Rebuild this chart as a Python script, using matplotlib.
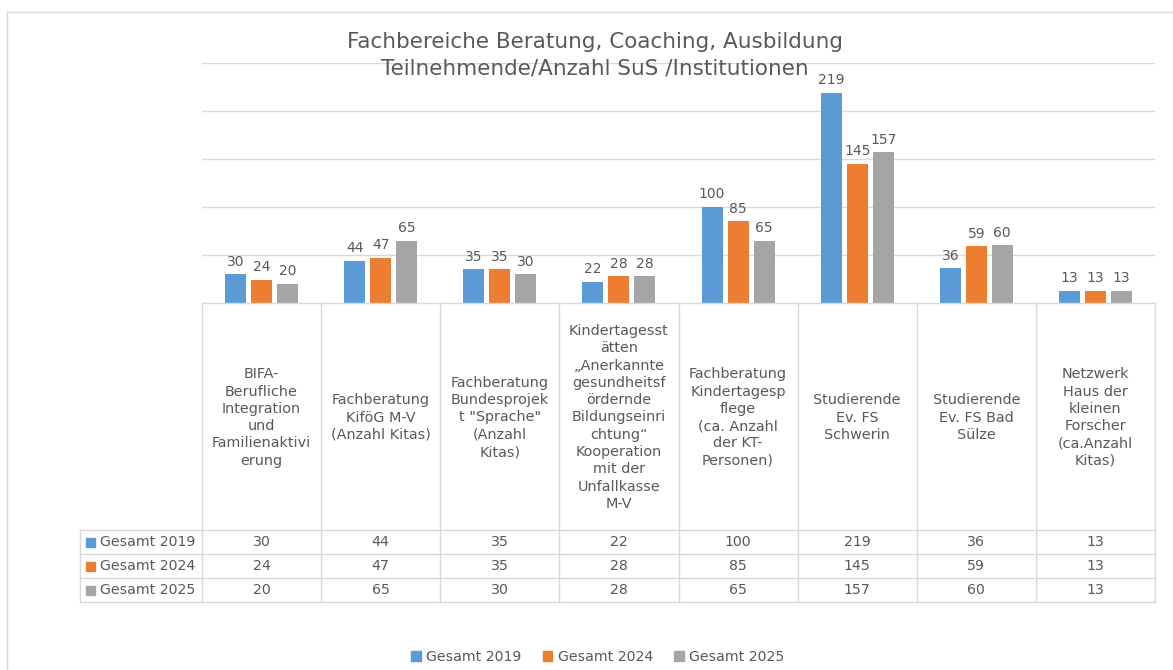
import matplotlib
matplotlib.use("Agg")
import matplotlib.pyplot as plt
from matplotlib.patches import Patch, Rectangle
from matplotlib.lines import Line2D

W, H = 1173, 670
GRID = "#D9D9D9"
TXT = "#595959"

title_lines = ["Fachbereiche Beratung, Coaching, Ausbildung",
               "Teilnehmende/Anzahl SuS /Institutionen"]
categories = [
    "BIFA-\nBerufliche\nIntegration\nund\nFamilienaktivi\nerung",
    "Fachberatung\nKiföG M-V\n(Anzahl Kitas)",
    "Fachberatung\nBundesprojek\nt \"Sprache\"\n(Anzahl\nKitas)",
    "Kindertagesst\nätten\n„Anerkannte\ngesundheitsf\nördernde\nBildungseinri\nchtung“\nKooperation\nmit der\nUnfallkasse\nM-V",
    "Fachberatung\nKindertagesp\nflege\n(ca. Anzahl\nder KT-\nPersonen)",
    "Studierende\nEv. FS\nSchwerin",
    "Studierende\nEv. FS Bad\nSülze",
    "Netzwerk\nHaus der\nkleinen\nForscher\n(ca.Anzahl\nKitas)",
]
series_names = ["Gesamt 2019", "Gesamt 2024", "Gesamt 2025"]
gesamt_2019 = [30, 44, 35, 22, 100, 219, 36, 13]
gesamt_2024 = [24, 47, 35, 28, 85, 145, 59, 13]
gesamt_2025 = [20, 65, 30, 28, 65, 157, 60, 13]
series = [gesamt_2019, gesamt_2024, gesamt_2025]
colors = ["#5B9BD5", "#ED7D31", "#A5A5A5"]


def px_rect(x0, y0, x1, y1):
    return [x0 / W, 1 - y1 / H, (x1 - x0) / W, (y1 - y0) / H]


plt.rcParams["font.family"] = ["DejaVu Sans"]
fig = plt.figure(figsize=(W / 100, H / 100), dpi=100)

# outer chart border (left + top visible)
fig.add_artist(Line2D([7 / W, 7 / W], [0, 1 - 12 / H], color=GRID, lw=1))
fig.add_artist(Line2D([7 / W, 1], [1 - 12 / H, 1 - 12 / H], color=GRID, lw=1))

# ---------- bars ----------
ax = fig.add_axes(px_rect(202, 63, 1155, 303))
n = len(categories)
xs = list(range(n))
off, bw = 0.218, 0.176
for k, (vals, col) in enumerate(zip(series, colors)):
    pos = [x + (k - 1) * off for x in xs]
    bars = ax.bar(pos, vals, width=bw, color=col, zorder=3)
    ax.bar_label(bars, padding=4, fontsize=10, color=TXT)
ax.set_xlim(-0.5, n - 0.5)
ax.set_ylim(0, 250)
ax.set_yticks([50, 100, 150, 200, 250])
ax.yaxis.grid(True, color=GRID, lw=1, zorder=0)
ax.tick_params(left=False, bottom=False, labelleft=False, labelbottom=False)
for s in ax.spines.values():
    s.set_visible(False)

# title as two separate lines (second line sits right next to the 219 label)
for line, ypx in zip(title_lines, [42, 69]):
    fig.text(595 / W, 1 - ypx / H, line, ha="center", va="center",
             fontsize=15.5, color=TXT)

# ---------- data table ----------
colw = (1155 - 202) / n
hdr = 122 / colw
tax = fig.add_axes(px_rect(80, 303, 1155, 603))
tax.set_xlim(-0.5 - hdr, n - 0.5)
tax.set_ylim(300, 0)
tax.axis("off")
cat_h, row_h = 227, 24
lkw = dict(color=GRID, lw=1, clip_on=False)
tax.plot([-0.5, n - 0.5], [0, 0], **lkw)
for r in range(len(series) + 1):
    y = cat_h + r * row_h
    tax.plot([-0.5 - hdr, n - 0.5], [y, y], **lkw)
tax.plot([-0.5 - hdr, -0.5 - hdr], [cat_h, cat_h + 3 * row_h], **lkw)
for c in range(n + 1):
    tax.plot([c - 0.5, c - 0.5], [0, cat_h + 3 * row_h], **lkw)

for i, lab in enumerate(categories):
    tax.text(i, cat_h / 2 + 1, lab, ha="center", va="center", fontsize=10.4,
             color=TXT, linespacing=1.3)

for r, (name, vals, col) in enumerate(zip(series_names, series, colors)):
    yc = cat_h + (r + 0.5) * row_h
    x0 = -0.5 - hdr + 6 / colw
    tax.add_patch(Rectangle((x0, yc - 4.5), 9 / colw, 9, color=col, clip_on=False))
    tax.text(x0 + 14 / colw, yc, name, ha="left", va="center", fontsize=10.2, color=TXT)
    for i, v in enumerate(vals):
        tax.text(i, yc, str(v), ha="center", va="center", fontsize=10.2, color=TXT)

# ---------- legend ----------
handles = [Patch(color=c, label=s) for c, s in zip(colors, series_names)]
fig.legend(handles=handles, loc="center", bbox_to_anchor=(598 / W, 1 - 657 / H),
           ncol=3, frameon=False, fontsize=10.2, labelcolor=TXT,
           handlelength=0.65, handleheight=0.65, handletextpad=0.4, columnspacing=1.5)

fig.savefig("out.png", dpi=100)
